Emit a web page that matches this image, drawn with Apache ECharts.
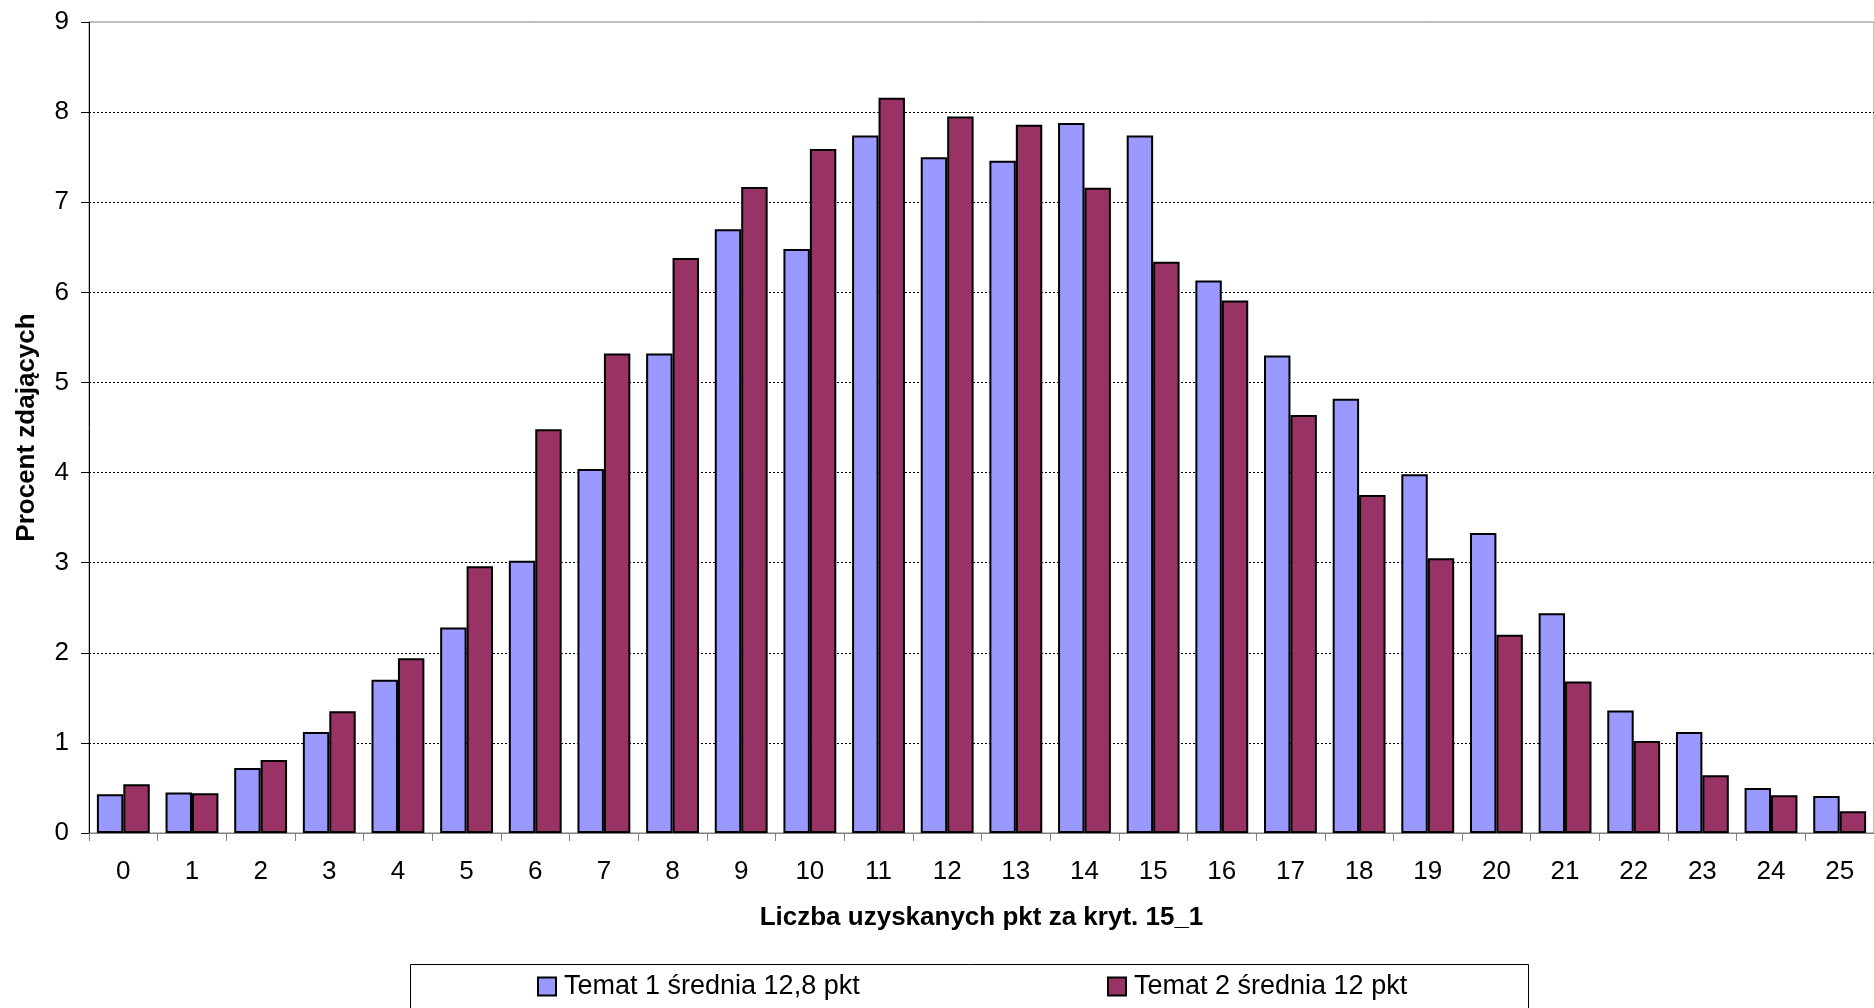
<!DOCTYPE html>
<html>
<head>
<meta charset="utf-8">
<script src="https://cdn.jsdelivr.net/npm/echarts@6/dist/echarts.min.js"></script>
<style>
html,body{margin:0;padding:0;background:#fff;}
#chart{width:1874px;height:1008px;}
</style>
</head>
<body>
<div id="chart"></div>
<script>
const categories = ['0','1','2','3','4','5','6','7','8','9','10','11','12','13','14','15','16','17','18','19','20','21','22','23','24','25'];
const temat1 = [0.43,0.45,0.72,1.12,1.70,2.28,3.02,4.04,5.32,6.70,6.48,7.74,7.50,7.46,7.88,7.74,6.13,5.30,4.82,3.98,3.33,2.44,1.36,1.12,0.50,0.41];
const temat2 = [0.54,0.44,0.81,1.35,1.94,2.96,4.48,5.32,6.38,7.17,7.59,8.16,7.95,7.86,7.16,6.34,5.91,4.64,3.75,3.05,2.20,1.68,1.02,0.64,0.42,0.24];
const seriesNames = ['Temat 1 średnia 12,8 pkt','Temat 2 średnia 12 pkt'];
const yTitle = 'Procent zdających';
const xTitle = 'Liczba uzyskanych pkt za kryt. 15_1';

const FONT = '"Liberation Sans", Arial, sans-serif';
const chart = echarts.init(document.getElementById('chart'), null, {renderer:'canvas'});
chart.setOption({
  animation:false,
  backgroundColor:'#ffffff',
  grid:{left:89, top:22, right:-2, bottom:175, show:true, borderColor:'#808080', borderWidth:1, backgroundColor:'transparent'},
  graphic:[{
    type:'rect', left:410, top:964, z:-1,
    shape:{width:1118, height:80},
    style:{fill:'#fff', stroke:'#000', lineWidth:1}
  }],
  legend:[
    {data:[seriesNames[0]], left:537, top:973, itemWidth:18, itemHeight:18, icon:'rect', padding:0,
     textStyle:{fontFamily:FONT, fontSize:27, color:'#000', padding:[0,0,0,3]}},
    {data:[seriesNames[1]], left:1107, top:973, itemWidth:18, itemHeight:18, icon:'rect', padding:0,
     textStyle:{fontFamily:FONT, fontSize:27, color:'#000', padding:[0,0,0,3]}}
  ],
  xAxis:{
    type:'category', data:categories,
    name:xTitle, nameLocation:'middle', nameGap:72,
    nameTextStyle:{fontFamily:FONT, fontSize:26, fontWeight:'bold', color:'#000'},
    axisLine:{lineStyle:{color:'#808080', width:1}},
    axisTick:{show:true, length:8, lineStyle:{color:'#808080'}},
    axisLabel:{fontFamily:FONT, fontSize:26, color:'#000', margin:26},
    splitLine:{show:false}
  },
  yAxis:{
    type:'value', min:0, max:9, interval:1,
    name:yTitle, nameLocation:'middle', nameRotate:90, nameGap:49,
    nameTextStyle:{fontFamily:FONT, fontSize:26, fontWeight:'bold', color:'#000'},
    axisLine:{show:true, lineStyle:{color:'#000', width:1}},
    axisTick:{show:true, length:8, lineStyle:{color:'#000'}},
    axisLabel:{fontFamily:FONT, fontSize:26, color:'#000', margin:20},
    splitLine:{show:true, showMinLine:false, showMaxLine:false, lineStyle:{color:'#000', width:1, type:[2,2]}}
  },
  series:[
    {name:seriesNames[0], type:'bar', data:temat1, barGap:'0%', barCategoryGap:'23%',
     itemStyle:{color:'#9999FF', borderColor:'#000', borderWidth:2}},
    {name:seriesNames[1], type:'bar', data:temat2, barGap:'0%', barCategoryGap:'23%',
     itemStyle:{color:'#993366', borderColor:'#000', borderWidth:2}}
  ]
});
</script>
</body>
</html>
